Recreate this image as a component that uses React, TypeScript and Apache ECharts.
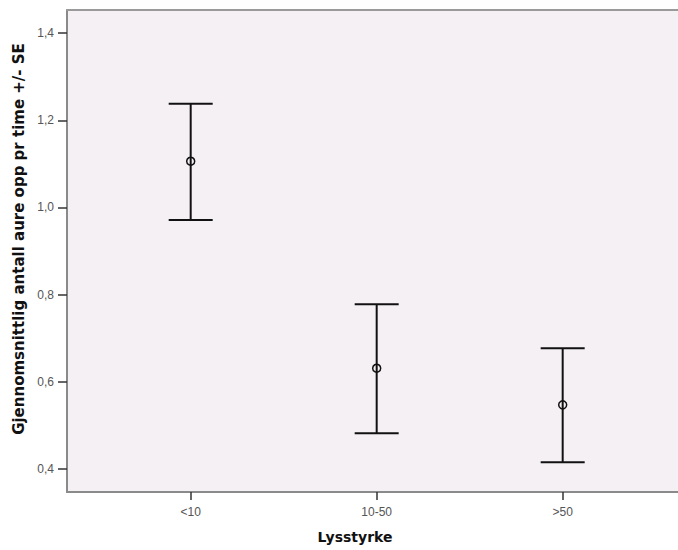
import React, { useEffect, useRef } from "react";
import * as echarts from "echarts";

const categories = ["<10", "10-50", ">50"];
const means = [1.106, 0.631, 0.547];
const lower = [0.971, 0.482, 0.415];
const upper = [1.238, 0.778, 0.677];
const yTicks = [0.4, 0.6, 0.8, 1.0, 1.2, 1.4];
const xPositions = [1, 2, 3];
const yTitle = "Gjennomsnittlig antall aure opp pr time +/- SE";
const xTitle = "Lysstyrke";

export default function App() {
  const ref = useRef<HTMLDivElement>(null);
  useEffect(() => {
    if (!ref.current) return;
    const chart = echarts.init(ref.current, undefined, { renderer: "svg" });
    const data = categories.map((c, i) => [xPositions[i], lower[i], upper[i], means[i]]);
    chart.setOption({
      animation: false,
      backgroundColor: "#ffffff",
      grid: {
        left: 67,
        top: 10,
        right: 0,
        bottom: 58,
        show: true,
        backgroundColor: "#F5F0F4",
        borderWidth: 0,
      },
      xAxis: [
        {
          type: "value",
          min: 0.335,
          max: 3.62,
          splitLine: { show: false },
          axisLine: { show: true, lineStyle: { color: "#8a8a8a", width: 2 } },
          axisTick: {
            show: true,
            length: 8,
            customValues: xPositions,
            lineStyle: { color: "#333", width: 1.5 },
          },
          axisLabel: {
            customValues: xPositions,
            formatter: (v: number) => categories[Math.round(v) - 1] ?? "",
            margin: 14,
            color: "#555",
            fontSize: 12,
            fontFamily: "Liberation Sans, Arial, sans-serif",
          },
        },
        {
          type: "value",
          position: "top",
          min: 0.335,
          max: 3.62,
          splitLine: { show: false },
          axisLine: { show: true, lineStyle: { color: "#9a9a9a", width: 2 } },
          axisTick: { show: false },
          axisLabel: { show: false },
        },
      ],
      yAxis: {
        type: "value",
        min: 0.347,
        max: 1.453,
        splitLine: { show: false },
        axisLine: { show: true, lineStyle: { color: "#8a8a8a", width: 2 } },
        axisTick: {
          show: true,
          length: 9,
          customValues: yTicks,
          lineStyle: { color: "#333", width: 1.5 },
        },
        axisLabel: {
          customValues: yTicks,
          formatter: (v: number) => v.toFixed(1).replace(".", ","),
          margin: 13,
          color: "#555",
          fontSize: 12,
          fontFamily: "Liberation Sans, Arial, sans-serif",
        },
      },
      graphic: [
        {
          type: "text",
          x: 19,
          y: 239,
          rotation: Math.PI / 2,
          style: {
            text: yTitle,
            fontSize: 15,
            fontWeight: "bold",
            fontFamily: "DejaVu Sans, sans-serif",
            fill: "#111",
            textAlign: "center",
            textVerticalAlign: "middle",
          },
        },
        {
          type: "text",
          x: 355,
          y: 537,
          style: {
            text: xTitle,
            fontSize: 14,
            fontWeight: "bold",
            fontFamily: "DejaVu Sans, sans-serif",
            fill: "#111",
            textAlign: "center",
            textVerticalAlign: "middle",
          },
        },
      ],
      series: [
        {
          type: "custom",
          xAxisIndex: 0,
          data,
          renderItem: (params: any, api: any) => {
            const x = api.value(0);
            const lo = api.coord([x, api.value(1)]);
            const hi = api.coord([x, api.value(2)]);
            const mid = api.coord([x, api.value(3)]);
            const half = 22;
            const style = { stroke: "#111", lineWidth: 2 };
            return {
              type: "group",
              children: [
                { type: "line", shape: { x1: hi[0], y1: hi[1], x2: lo[0], y2: lo[1] }, style },
                { type: "line", shape: { x1: hi[0] - half, y1: hi[1], x2: hi[0] + half, y2: hi[1] }, style },
                { type: "line", shape: { x1: lo[0] - half, y1: lo[1], x2: lo[0] + half, y2: lo[1] }, style },
                {
                  type: "circle",
                  shape: { cx: mid[0], cy: mid[1], r: 4 },
                  style: { stroke: "#111", lineWidth: 1.5, fill: "none" },
                },
              ],
            };
          },
        },
      ],
    });
    return () => chart.dispose();
  }, []);
  return (
    <div
      ref={ref}
      style={{ position: "fixed", left: 0, top: 0, width: 678, height: 550 }}
    />
  );
}
